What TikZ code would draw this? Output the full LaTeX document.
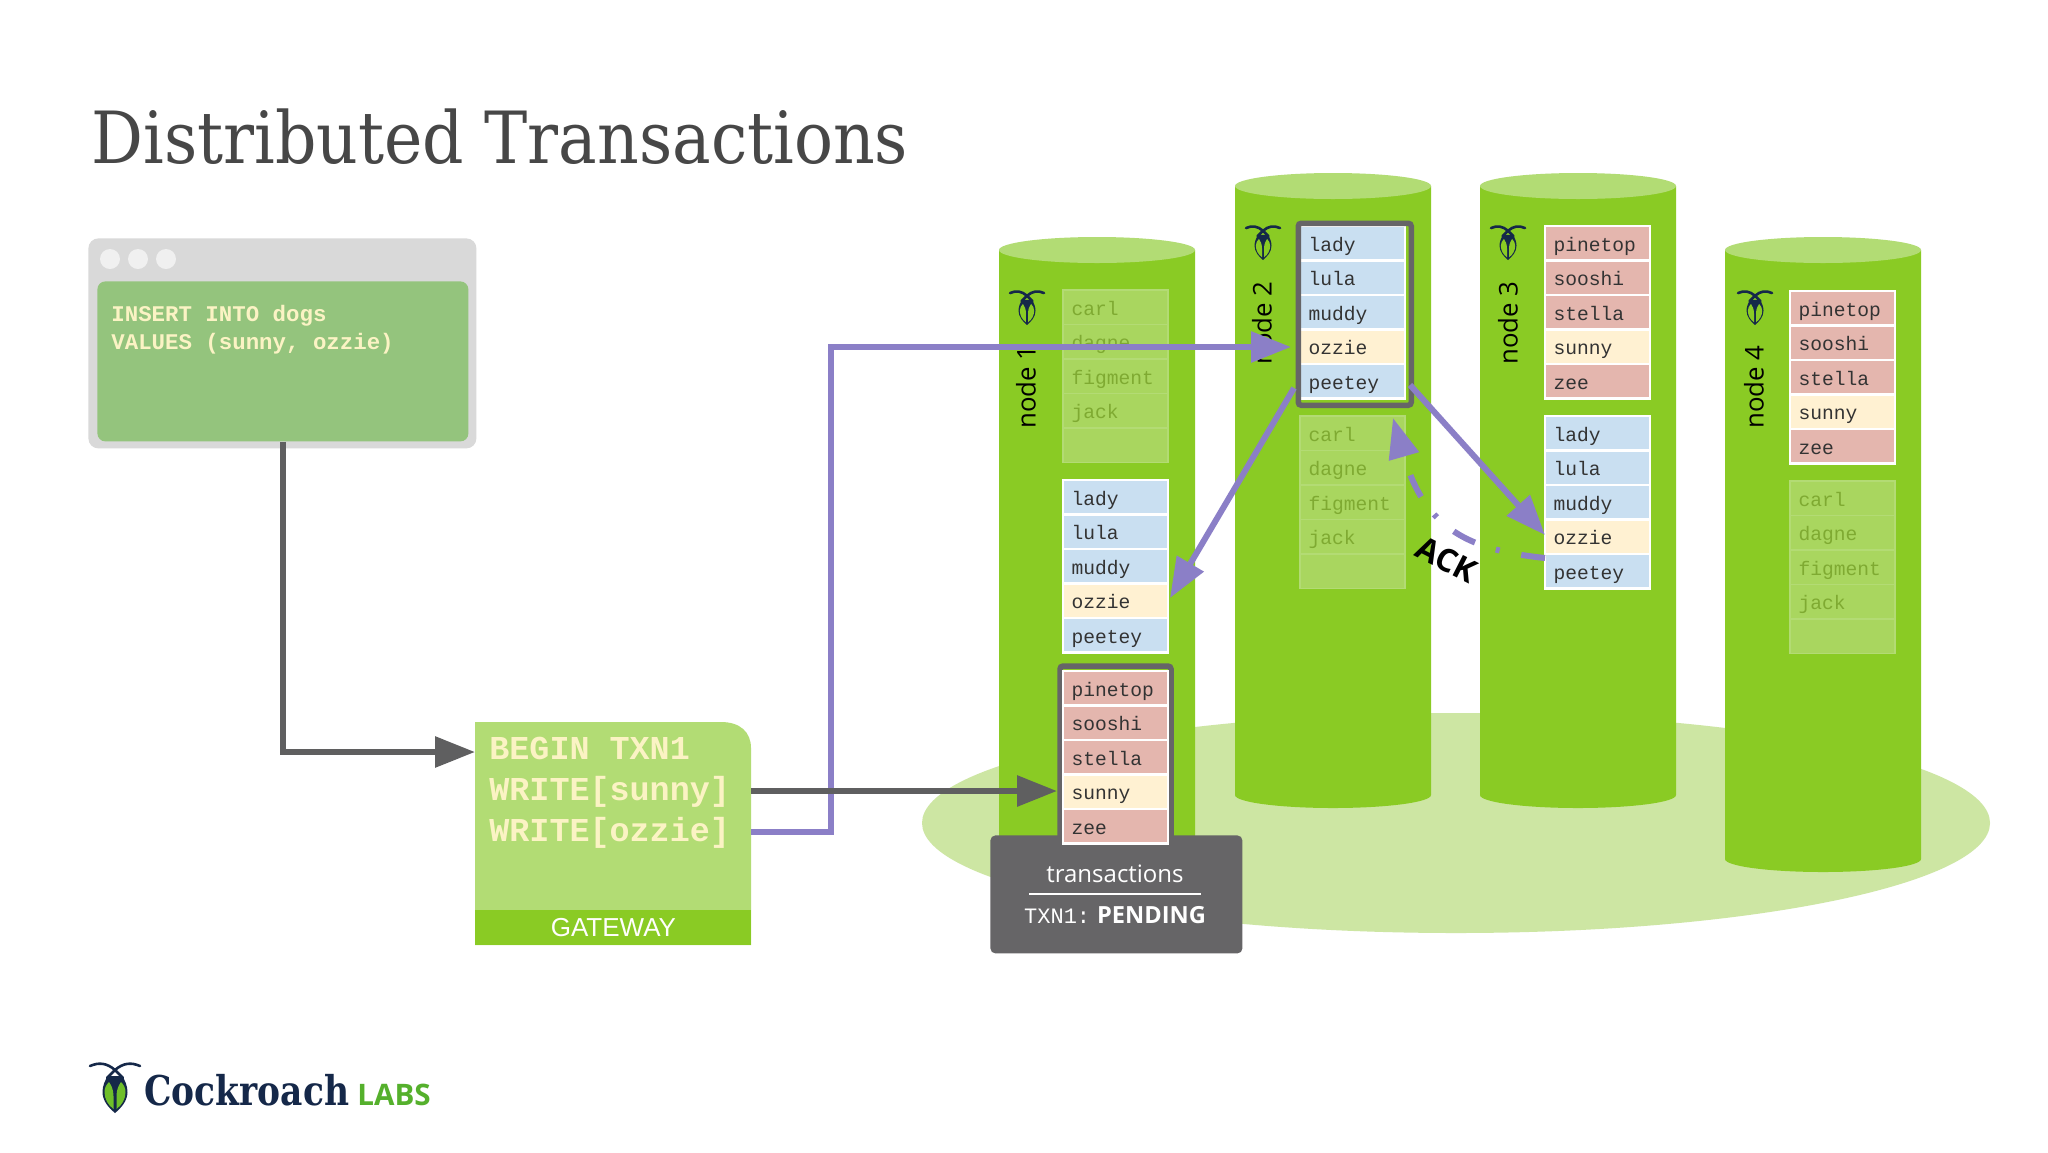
\documentclass[tikz,border=0pt]{standalone}
\usepackage{fontspec}
\usetikzlibrary{arrows.meta}
\setmainfont{Open Sans}
\newfontfamily\monof{Liberation Mono}
\newfontfamily\slabf[FakeStretch=0.9]{DejaVu Serif}
\newfontfamily\slabbf[FakeStretch=0.84]{DejaVu Serif Bold}
\newfontfamily\arialf{Liberation Sans}
\definecolor{cylgreen}{HTML}{8ACB24}
\definecolor{toplight}{HTML}{B2DC74}
\definecolor{floorgreen}{HTML}{CDE6A3}
\definecolor{rowblue}{HTML}{C9DFF1}
\definecolor{rowyellow}{HTML}{FFF1D2}
\definecolor{rowred}{HTML}{E4B6AE}
\definecolor{fadefill}{HTML}{A9D65F}
\definecolor{fadeline}{HTML}{B3DB74}
\definecolor{fadetext}{HTML}{7FAA32}
\definecolor{purpleline}{HTML}{8B7FC7}
\definecolor{grayline}{HTML}{5F5F60}
\definecolor{boxgray}{HTML}{666567}
\definecolor{cream}{HTML}{FBF3C4}
\definecolor{navy}{HTML}{152849}
\definecolor{labsgreen}{HTML}{55B02C}
\definecolor{wingbright}{HTML}{6FBF2A}
\tikzset{
  cellbase/.style={anchor=north west,minimum width=52.5pt,minimum height=17.25pt,text width=44pt,
    inner xsep=4pt,inner ysep=0pt,outer sep=0pt,text height=8pt,text depth=0pt,
    font=\monof\fontsize{9.8}{10}\selectfont,text=black!80,draw=white,line width=1.2pt},
  bl/.style={cellbase,fill=rowblue},
  ye/.style={cellbase,fill=rowyellow},
  re/.style={cellbase,fill=rowred},
  fa/.style={cellbase,fill=fadefill,draw=fadeline,line width=.8pt,text=fadetext},
  nodelabel/.style={rotate=90,anchor=west,font=\fontsize{12.9}{13}\selectfont,text=black,inner sep=0pt},
  frameline/.style={draw=boxgray,line width=2.75pt,rounded corners=1.5pt},
  gwtext/.style={anchor=west,inner sep=0pt,text=cream,font=\monof\bfseries\fontsize{16.7}{17}\selectfont},
  sqltext/.style={anchor=west,inner sep=0pt,text=cream,font=\monof\bfseries\fontsize{11.2}{12}\selectfont},
  purplearrow/.style={draw=purpleline,line width=3pt,-{Triangle[length=20pt,width=15pt]}},
  grayarrow/.style={draw=grayline,line width=3pt,-{Triangle[length=20pt,width=15pt]}},
  roach/.pic={
    \draw[navy,line width=1.3pt,line cap=round] (-25,-22) .. controls (-16,-26) and (-8,-25) .. (0,-18) -- (8,-10);
    \draw[navy,line width=1.3pt,line cap=round] (25,-22) .. controls (16,-26) and (8,-25) .. (0,-18) -- (-8,-10);
    \fill[navy] (-7,-12) -- (7,-12) .. controls (10,-8) and (12.5,-2) .. (12.5,4)
       .. controls (12.5,13) and (6,20) .. (0,25)
       .. controls (-6,20) and (-12.5,13) .. (-12.5,4)
       .. controls (-12.5,-2) and (-10,-8) .. (-7,-12) -- cycle;
    \fill[#1] (-1.5,21) .. controls (-7,17) and (-10.5,11) .. (-10.5,4) .. controls (-10.5,0) and (-9,-3) .. (-6,-6) .. controls (-4,-3) and (-1.5,1) .. (-1.5,8) -- cycle;
    \fill[#1] (1.5,21) .. controls (7,17) and (10.5,11) .. (10.5,4) .. controls (10.5,0) and (9,-3) .. (6,-6) .. controls (4,-3) and (1.5,1) .. (1.5,8) -- cycle;
  }
}
\newcommand{\rowtable}[4]{%
  \foreach \rowtxt/\rowsty [count=\rowi from 0] in {#4} {
    \node[\rowsty] (#1\rowi) at (#2,{#3+\rowi*34.5}) {\rowtxt};
  }}
\newcommand{\cyl}[5]{% name, left, right, topcentre, bottomcentre
  \fill[cylgreen] (#2,#4) -- (#3,#4) -- (#3,#5) arc[start angle=0,end angle=-180,x radius=98,y radius=-13] -- cycle;
  \fill[toplight] ({(#2+#3)/2},#4) ellipse[x radius=98,y radius=13];
  \coordinate (#1) at ({(#2+#3)/2},#4);
}
\begin{document}
\begin{tikzpicture}[x=0.5pt,y=-0.5pt]
\useasboundingbox (0,0) rectangle (2048,1152);
\fill[white] (0,0) rectangle (2048,1152);
% title
\node[anchor=base west,inner sep=0pt,text=black!72,font=\slabf\fontsize{36}{40}\selectfont] (title) at (91,163) {Distributed Transactions};
% client window
\node[draw=none,fill=black!15,rounded corners=5pt,minimum width=194pt,minimum height=105pt,anchor=north west,inner sep=0pt] (window) at (88,238) {};
\fill[black!6] (110,259) circle[radius=10] (138,259) circle[radius=10] (166,259) circle[radius=10];
\node[fill={rgb,255:red,148;green,196;blue,125},rounded corners=4pt,minimum width=185.5pt,minimum height=80pt,anchor=north west,inner sep=0pt] (client) at (97,281) {};
\node[sqltext] (sql1) at (111,316) {INSERT INTO dogs};
\node[sqltext] (sql2) at (111,344) {VALUES (sunny, ozzie)};
% gateway
\fill[toplight] (475,722) -- (721,722) .. controls (740,722) and (751,732) .. (751,748) -- (751,945) -- (475,945) -- cycle;
\node[fill=cylgreen,minimum width=138pt,minimum height=17.5pt,inner sep=0pt,anchor=north west,text=white!95!cream,font=\arialf\fontsize{13}{14}\selectfont] (gateway) at (475,910) {GATEWAY};
\node[gwtext] (gw1) at (489,748) {BEGIN TXN1};
\node[gwtext] (gw2) at (489,792) {WRITE[sunny]};
\node[gwtext] (gw3) at (489,833) {WRITE[ozzie]};
% floor
\fill[floorgreen] (1456,823) ellipse[x radius=534,y radius=110];
% cylinders
\cyl{cylA}{999}{1195}{250}{885}
\cyl{cylB}{1235}{1431}{186}{795}
\cyl{cylC}{1480}{1676}{186}{795}
\cyl{cylD}{1725}{1921}{250}{859}
% labels and icons
\node[nodelabel] (lab1) at (1026,429) {node 1};
\node[nodelabel] (lab2) at (1262,365) {node 2};
\node[nodelabel] (lab3) at (1508,365) {node 3};
\node[nodelabel] (lab4) at (1754,429) {node 4};
\pic at (1027,308) [scale=0.68] {roach=cylgreen};
\pic at (1263,243) [scale=0.68] {roach=cylgreen};
\pic at (1508,243) [scale=0.68] {roach=cylgreen};
\pic at (1755,308) [scale=0.68] {roach=cylgreen};
% tables
\rowtable{a}{1063}{290}{carl/fa,dagne/fa,figment/fa,jack/fa,{}/fa}
\rowtable{b}{1063}{480}{lady/bl,lula/bl,muddy/bl,ozzie/ye,peetey/bl}
\draw[frameline] (1060,850) -- (1060,666) -- (1171,666) -- (1171,850);
\node[fill=boxgray,rounded corners=2.5pt,minimum width=126pt,minimum height=59pt,inner sep=0pt,anchor=north west] (txbox) at (990,835) {};
\rowtable{c}{1063}{671}{pinetop/re,sooshi/re,stella/re,sunny/ye,zee/re}
\node[text=white,inner sep=0pt,font=\fontsize{12}{13}\selectfont] (txtitle) at (1115,874) {transactions};
\draw[white,line width=1pt] (1029,894) -- (1201,894);
\node[text=white,inner sep=0pt,anchor=base] (txstate) at (1115,923) {{\monof\fontsize{11}{12}\selectfont TXN1:} {\bfseries\fontsize{11.8}{12}\selectfont PENDING}};
\rowtable{d}{1300}{226}{lady/bl,lula/bl,muddy/bl,ozzie/ye,peetey/bl}
\node[draw=boxgray,line width=2.75pt,rounded corners=1.5pt,minimum width=56.5pt,minimum height=91pt,inner sep=0pt,anchor=north west] (frameB) at (1295.5,220.5) {};
\rowtable{e}{1300}{416}{carl/fa,dagne/fa,figment/fa,jack/fa,{}/fa}
\rowtable{f}{1545}{226}{pinetop/re,sooshi/re,stella/re,sunny/ye,zee/re}
\rowtable{g}{1545}{416}{lady/bl,lula/bl,muddy/bl,ozzie/ye,peetey/bl}
\rowtable{h}{1790}{291}{pinetop/re,sooshi/re,stella/re,sunny/ye,zee/re}
\rowtable{i}{1790}{481}{carl/fa,dagne/fa,figment/fa,jack/fa,{}/fa}
% connector ends
\coordinate (gwIn) at (475,752);
\coordinate (gwOutGray) at (751,791);
\coordinate (gwOutPurple) at (751,832);
\coordinate (sunnyIn) at (1057,791);
\coordinate (riserTop) at (831,347);
\coordinate (ozzieIn) at (1291,347);
\coordinate (frameL) at (1294,388);
\coordinate (frameR) at (1410,385);
\coordinate (ozzieA) at (1170,598);
\coordinate (ozzieC) at (1545,535);
\coordinate (ackFrom) at (1545,558);
\coordinate (ackTo) at (1393,418);
% connectors
\draw[grayarrow] (client.south) |- (gwIn);
\draw[purplearrow] (gwOutPurple) -| (riserTop) -- (ozzieIn);
\draw[grayarrow] (gwOutGray) -- (sunnyIn);
\draw[purplearrow] (frameL) -- (ozzieA);
\draw[purplearrow] (frameR) -- (ozzieC);
\draw[purplearrow,dash pattern=on 12pt off 11pt on 2pt off 11pt] (ackFrom) .. controls (1470,550) and (1425,530) .. (ackTo);
\node[rotate=-27,inner sep=0pt,text=black,font=\bfseries\fontsize{16}{17}\selectfont] (ack) at (1447,560) {ACK};
% logo
\pic at (115,1088) {roach=wingbright};
\node[anchor=base west,inner sep=0pt,text=navy,font=\slabbf\fontsize{20.5}{22}\selectfont] (brand) at (144,1105) {Cockroach};
\node[anchor=base west,inner sep=0pt,text=labsgreen,font=\bfseries\fontsize{14.8}{15}\selectfont] (labs) at (357,1105) {LABS};
\end{tikzpicture}
\end{document}
